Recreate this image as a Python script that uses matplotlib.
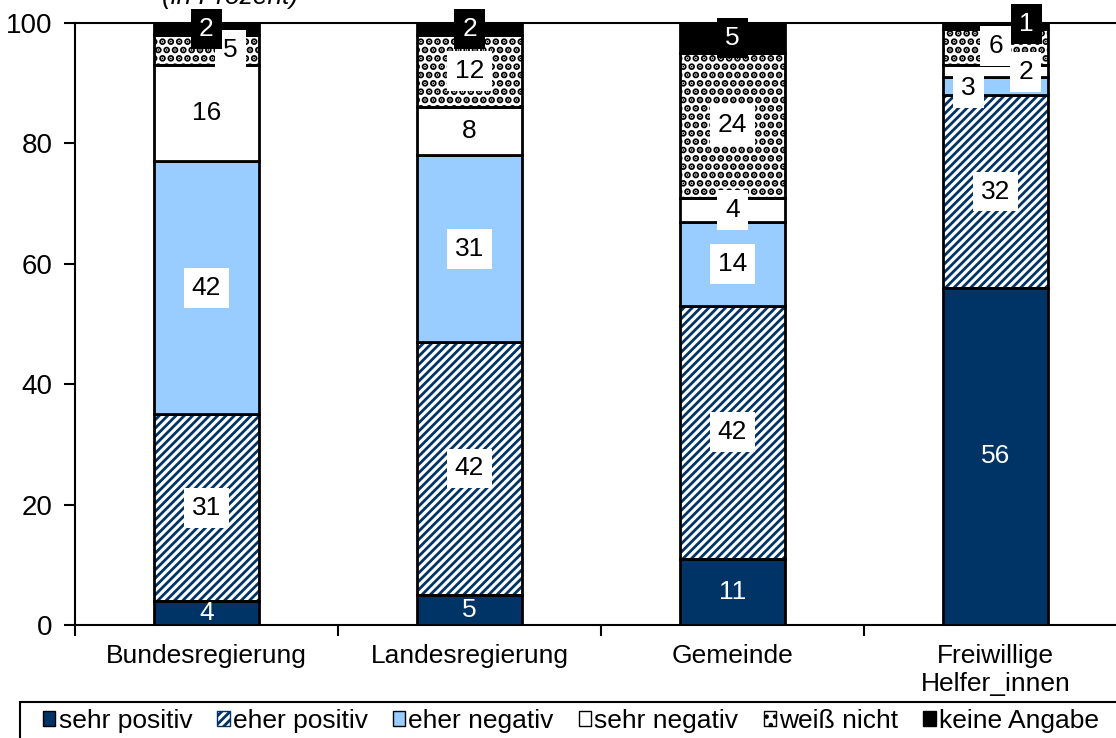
import numpy as np
import matplotlib
matplotlib.use('Agg')
import matplotlib.pyplot as plt
from matplotlib.patches import Patch, Rectangle

plt.rcParams['font.family'] = ['Liberation Sans', 'DejaVu Sans']
plt.rcParams['hatch.linewidth'] = 2.0

# Data (percent)
categories = ['Bundesregierung', 'Landesregierung', 'Gemeinde', 'Freiwillige\nHelfer_innen']
series_names = ['sehr positiv', 'eher positiv', 'eher negativ', 'sehr negativ', 'weiß nicht', 'keine Angabe']
sehr_positiv = [4, 5, 11, 56]
eher_positiv = [31, 42, 42, 32]
eher_negativ = [42, 31, 14, 3]
sehr_negativ = [16, 8, 4, 2]
weiss_nicht = [5, 12, 24, 6]
keine_angabe = [2, 2, 5, 1]
y_ticks = [0, 20, 40, 60, 80, 100]

series = [sehr_positiv, eher_positiv, eher_negativ, sehr_negativ, weiss_nicht, keine_angabe]

navy = '#003366'
light_blue = '#99CCFF'
# facecolor, hatch, hatch colour, hatch width, label text colour, label box colour
styles = [
    (navy, None, None, None, 'white', None),
    ('white', '////', navy, 2.0, 'black', 'white'),
    (light_blue, None, None, None, 'black', 'white'),
    ('white', None, None, None, 'black', 'white'),
    ('white', '..', 'black', 3.5, 'black', 'white'),
    ('black', None, None, None, 'white', 'black'),
]

# label offsets in pixels (dx, dy) where labels were shifted to avoid overlap
offsets = {
    (0, 4): (24, 0),
    (3, 2): (-27, 2),
    (3, 3): (30, 1),
    (3, 4): (0, -1),
    (3, 5): (31, -2),
}

fs = 19
W, H = 1116, 738

fig = plt.figure(figsize=(W / 100, H / 100), dpi=100)
ax = fig.add_axes([75 / W, 1 - 625 / H, 1052 / W, 602 / H])

x = np.arange(len(categories))
width = 0.403
bottom = np.zeros(len(categories))
for i, vals in enumerate(series):
    fc, hatch, hc, hw, tc, bc = styles[i]
    vals = np.array(vals, dtype=float)
    if hatch:
        with plt.rc_context({'hatch.linewidth': hw}):
            ax.bar(x, vals, width, bottom=bottom, color=fc, hatch=hatch,
                   edgecolor=hc, linewidth=0, zorder=2)
        ax.bar(x, vals, width, bottom=bottom, fill=False,
               edgecolor='black', linewidth=2, zorder=3)
    else:
        ax.bar(x, vals, width, bottom=bottom, color=fc,
               edgecolor='black', linewidth=2, zorder=3)
    for j, v in enumerate(vals):
        dx, dy = offsets.get((j, i), (0, 0))
        box = None
        if bc is not None:
            box = dict(boxstyle='square,pad=0.3', facecolor=bc, edgecolor='none')
        ax.annotate(f'{int(v)}', (x[j], bottom[j] + v / 2),
                    xytext=(dx * 0.72, -dy * 0.72), textcoords='offset points',
                    ha='center', va='center', fontsize=fs, color=tc,
                    bbox=box, zorder=5, annotation_clip=False)
    bottom += vals

ax.set_xlim(-0.5, len(categories) - 0.5)
ax.set_ylim(0, 100)
ax.set_yticks(y_ticks)
ax.tick_params(axis='y', labelsize=fs + 1, length=8, width=1.5, pad=8)
ax.set_xticks(x)
ax.set_xticklabels(categories, fontsize=fs)
ax.tick_params(axis='x', which='major', length=0, pad=14)
ax.set_xticks(np.arange(-0.5, len(categories), 1), minor=True)
ax.tick_params(axis='x', which='minor', length=8, width=1.5)
for s in ['left', 'bottom', 'top']:
    ax.spines[s].set_linewidth(1.5)
ax.spines['right'].set_visible(False)

fig.text(230 / W, 1 - 4 / H, '(in Prozent)', ha='center', va='baseline',
         fontsize=fs, style='italic')

# legend frame runs past the right and bottom edges
fig.patches.append(Rectangle((20 / W, -0.05), 1.1, 0.05 + 1 - 702 / H,
                             transform=fig.transFigure, fill=False,
                             edgecolor='black', linewidth=1.5))

handles = []
for i, name in enumerate(series_names):
    fc, hatch, hc, hw, tc, bc = styles[i]
    if hatch:
        handles.append(Patch(facecolor=fc, hatch=hatch, edgecolor=hc, label=name))
    else:
        handles.append(Patch(facecolor=fc, edgecolor='black', label=name))
leg = fig.legend(handles=handles, loc='upper left', bbox_to_anchor=(43 / W, 1 - 709 / H),
                 ncol=6, fontsize=fs, handlelength=0.47, handleheight=0.47,
                 handletextpad=0.12, columnspacing=0.95, frameon=False,
                 borderpad=0, borderaxespad=0)

fig.savefig('out.png', dpi=100)
